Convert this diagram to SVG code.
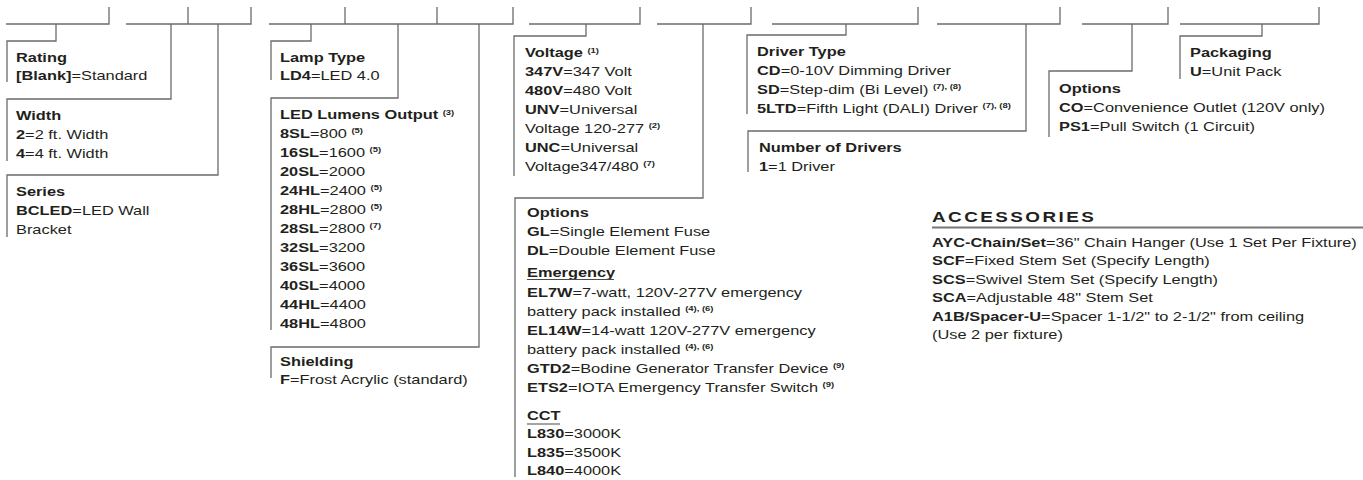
<svg xmlns="http://www.w3.org/2000/svg" width="1363" height="480" viewBox="0 0 1363 480">
<style>
text{font-family:"Liberation Sans",Arial,sans-serif;font-size:13px;fill:#231f20}
.b{font-weight:bold}
.s{font-weight:bold;font-size:7.5px}
.h{font-weight:bold;font-size:15px}
.ln{fill:none;stroke:#6b6b6b;stroke-width:1.3}
.ul{stroke:#4a4a4a;stroke-width:1.2}
</style>
<rect width="1363" height="480" fill="#fff"/>
<g id="code-line" class="ln">
<path d="M6 24H109V7M126 24H251V7M188 24V7M269 24H513V7M345 24V7M437 24V7M529 24H640V7M657 24H751V7M772 24H918V7M937 24H1060V7M1082 24H1168V7M1180 24H1319V7"/>
</g>
<g id="connectors" class="ln">
<path d="M56 24V41H7V82"/>
<path d="M171 24V99H7V161"/>
<path d="M218 24V175H7V237"/>
<path d="M311 24V41H271V80"/>
<path d="M398 24V98H271V330"/>
<path d="M479 24V347H271V378"/>
<path d="M586 24V36H514V176"/>
<path d="M703 24V198H515V477"/>
<path d="M846 24V35H747V114"/>
<path d="M1026 24V131H748V172"/>
<path d="M1132 24V71H1049V137"/>
<path d="M1262 24V36H1180V79"/>
</g>
<g id="rating"><text transform="translate(16,62) scale(1.26,1)"><tspan x="0" y="0" class="b">Rating</tspan><tspan x="0" y="18" class="b">[Blank]</tspan><tspan>=Standard</tspan></text></g>
<g id="width"><text transform="translate(16,120) scale(1.26,1)"><tspan x="0" y="0" class="b">Width</tspan><tspan x="0" y="19" class="b">2</tspan><tspan>=2 ft. Width</tspan><tspan x="0" y="38" class="b">4</tspan><tspan>=4 ft. Width</tspan></text></g>
<g id="series"><text transform="translate(16,196) scale(1.26,1)"><tspan x="0" y="0" class="b">Series</tspan><tspan x="0" y="19" class="b">BCLED</tspan><tspan>=LED Wall</tspan><tspan x="0" y="38">Bracket</tspan></text></g>
<g id="lamp-type"><text transform="translate(280,62) scale(1.26,1)"><tspan x="0" y="0" class="b">Lamp Type</tspan><tspan x="0" y="18" class="b">LD4</tspan><tspan>=LED 4.0</tspan></text></g>
<g id="lumens"><text transform="translate(280,119) scale(1.26,1)"><tspan x="0" y="0" class="b">LED Lumens Output </tspan><tspan class="s" dy="-4.5">(3)</tspan><tspan x="0" y="19" class="b">8SL</tspan><tspan>=800 </tspan><tspan class="s" dy="-4.5">(5)</tspan><tspan x="0" y="38" class="b">16SL</tspan><tspan>=1600 </tspan><tspan class="s" dy="-4.5">(5)</tspan><tspan x="0" y="57" class="b">20SL</tspan><tspan>=2000</tspan><tspan x="0" y="76" class="b">24HL</tspan><tspan>=2400 </tspan><tspan class="s" dy="-4.5">(5)</tspan><tspan x="0" y="95" class="b">28HL</tspan><tspan>=2800 </tspan><tspan class="s" dy="-4.5">(5)</tspan><tspan x="0" y="114" class="b">28SL</tspan><tspan>=2800 </tspan><tspan class="s" dy="-4.5">(7)</tspan><tspan x="0" y="133" class="b">32SL</tspan><tspan>=3200</tspan><tspan x="0" y="152" class="b">36SL</tspan><tspan>=3600</tspan><tspan x="0" y="171" class="b">40SL</tspan><tspan>=4000</tspan><tspan x="0" y="190" class="b">44HL</tspan><tspan>=4400</tspan><tspan x="0" y="209" class="b">48HL</tspan><tspan>=4800</tspan></text></g>
<g id="shielding"><text transform="translate(280,366) scale(1.26,1)"><tspan x="0" y="0" class="b">Shielding</tspan><tspan x="0" y="18" class="b">F</tspan><tspan>=Frost Acrylic (standard)</tspan></text></g>
<g id="voltage"><text transform="translate(525,57) scale(1.26,1)"><tspan x="0" y="0" class="b">Voltage </tspan><tspan class="s" dy="-4.5">(1)</tspan><tspan x="0" y="19" class="b">347V</tspan><tspan>=347 Volt</tspan><tspan x="0" y="38" class="b">480V</tspan><tspan>=480 Volt</tspan><tspan x="0" y="57" class="b">UNV</tspan><tspan>=Universal</tspan><tspan x="0" y="76">Voltage 120-277 </tspan><tspan class="s" dy="-4.5">(2)</tspan><tspan x="0" y="95" class="b">UNC</tspan><tspan>=Universal</tspan><tspan x="0" y="114">Voltage347/480 </tspan><tspan class="s" dy="-4.5">(7)</tspan></text></g>
<g id="options-emergency-cct"><text transform="translate(527,217) scale(1.26,1)"><tspan x="0" y="0" class="b">Options</tspan><tspan x="0" y="19" class="b">GL</tspan><tspan>=Single Element Fuse</tspan><tspan x="0" y="38" class="b">DL</tspan><tspan>=Double Element Fuse</tspan><tspan x="0" y="60" class="b">Emergency</tspan><tspan x="0" y="80" class="b">EL7W</tspan><tspan>=7-watt, 120V-277V emergency</tspan><tspan x="0" y="99">battery pack installed </tspan><tspan class="s" dy="-4.5">(4), (6)</tspan><tspan x="0" y="118" class="b">EL14W</tspan><tspan>=14-watt 120V-277V emergency</tspan><tspan x="0" y="137">battery pack installed </tspan><tspan class="s" dy="-4.5">(4), (6)</tspan><tspan x="0" y="156" class="b">GTD2</tspan><tspan>=Bodine Generator Transfer Device </tspan><tspan class="s" dy="-4.5">(9)</tspan><tspan x="0" y="175" class="b">ETS2</tspan><tspan>=IOTA Emergency Transfer Switch </tspan><tspan class="s" dy="-4.5">(9)</tspan><tspan x="0" y="203" class="b">CCT</tspan><tspan x="0" y="221" class="b">L830</tspan><tspan>=3000K</tspan><tspan x="0" y="240" class="b">L835</tspan><tspan>=3500K</tspan><tspan x="0" y="258" class="b">L840</tspan><tspan>=4000K</tspan></text>
<path class="ul" d="M527 279.5H614M527 424H560"/></g>
<g id="driver-type"><text transform="translate(757,56) scale(1.26,1)"><tspan x="0" y="0" class="b">Driver Type</tspan><tspan x="0" y="19" class="b">CD</tspan><tspan>=0-10V Dimming Driver</tspan><tspan x="0" y="38" class="b">SD</tspan><tspan>=Step-dim (Bi Level) </tspan><tspan class="s" dy="-4.5">(7), (8)</tspan><tspan x="0" y="57" class="b">5LTD</tspan><tspan>=Fifth Light (DALI) Driver </tspan><tspan class="s" dy="-4.5">(7), (8)</tspan></text></g>
<g id="number-of-drivers"><text transform="translate(759,152) scale(1.26,1)"><tspan x="0" y="0" class="b">Number of Drivers</tspan><tspan x="0" y="19" class="b">1</tspan><tspan>=1 Driver</tspan></text></g>
<g id="options"><text transform="translate(1059,93) scale(1.26,1)"><tspan x="0" y="0" class="b">Options</tspan><tspan x="0" y="19" class="b">CO</tspan><tspan>=Convenience Outlet (120V only)</tspan><tspan x="0" y="38" class="b">PS1</tspan><tspan>=Pull Switch (1 Circuit)</tspan></text></g>
<g id="packaging"><text transform="translate(1190,57) scale(1.26,1)"><tspan x="0" y="0" class="b">Packaging</tspan><tspan x="0" y="19" class="b">U</tspan><tspan>=Unit Pack</tspan></text></g>
<g id="accessories">
<text class="h" transform="translate(932,222) scale(1.26,1)" textLength="128.5" lengthAdjust="spacing">ACCESSORIES</text>
<path d="M932 227.5H1363" stroke="#777" stroke-width="1.8"/>
<text transform="translate(932,247) scale(1.26,1)"><tspan x="0" y="0" class="b">AYC-Chain/Set</tspan><tspan>=36" Chain Hanger (Use 1 Set Per Fixture)</tspan><tspan x="0" y="18.5" class="b">SCF</tspan><tspan>=Fixed Stem Set (Specify Length)</tspan><tspan x="0" y="37" class="b">SCS</tspan><tspan>=Swivel Stem Set (Specify Length)</tspan><tspan x="0" y="55.5" class="b">SCA</tspan><tspan>=Adjustable 48" Stem Set</tspan><tspan x="0" y="74" class="b">A1B/Spacer-U</tspan><tspan>=Spacer 1-1/2" to 2-1/2" from ceiling</tspan><tspan x="0" y="92.5">(Use 2 per fixture)</tspan></text>
</g>
</svg>
